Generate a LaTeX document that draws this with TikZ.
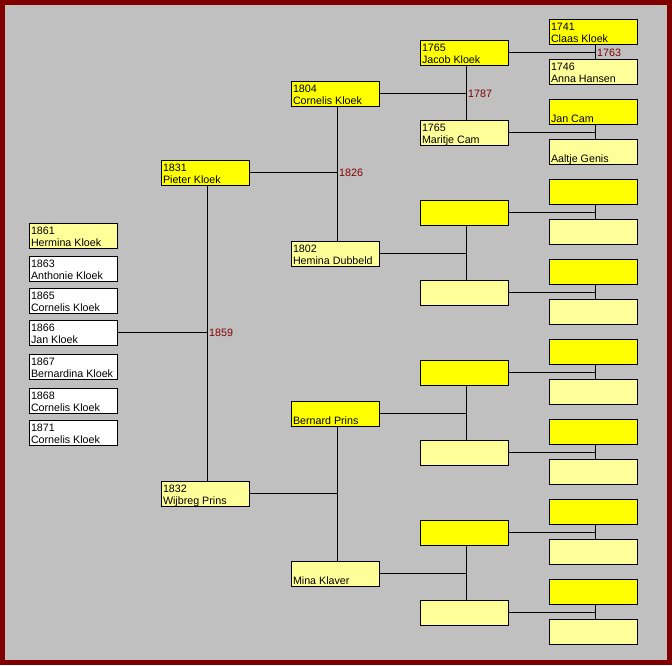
\documentclass[tikz,border=0pt]{standalone}
\usepackage{fontspec}
\setmainfont{Liberation Sans}
\definecolor{frame}{HTML}{800000}
\definecolor{panel}{HTML}{C0C0C0}
\definecolor{male}{HTML}{FFFF00}
\definecolor{female}{HTML}{FFFF99}
\definecolor{wedding}{HTML}{800000}
\newcommand{\who}[2]{\parbox[c][25pt][t]{84pt}{\rule{0pt}{11pt}#1\\#2}}
\tikzset{
  person/.style={draw, line width=1pt, minimum width=88pt, minimum height=25pt,
    inner sep=0pt, font=\fontsize{10.7}{12}\selectfont},
  man/.style={person, fill=male},
  woman/.style={person, fill=female},
  kid/.style={person, fill=white},
  wed/.style={anchor=west, inner sep=2pt, text=wedding, font=\fontsize{10.7}{12}\selectfont},
  tie/.style={line width=1pt}
}

\begin{document}
\begin{tikzpicture}[x=1pt, y=-1pt]
            \useasboundingbox (0,0) rectangle (672,665);
            \fill[frame] (0,0) rectangle (672,665);
            \fill[panel] (5,5) rectangle (667,660);

            % Children
            \node[woman] (C1) at (73,235.5) {\who{1861}{Hermina Kloek}};
            \node[kid] (C2) at (73,268.5) {\who{1863}{Anthonie Kloek}};
            \node[kid] (C3) at (73,300.5) {\who{1865}{Cornelis Kloek}};
            \node[kid] (C4) at (73,332.5) {\who{1866}{Jan Kloek}};
            \node[kid] (C5) at (73,366.5) {\who{1867}{Bernardina Kloek}};
            \node[kid] (C6) at (73,400.5) {\who{1868}{Cornelis Kloek}};
            \node[kid] (C7) at (73,432.5) {\who{1871}{Cornelis Kloek}};

            % Parents
            \node[man] (P1) at (205,172.5) {\who{1831}{Pieter Kloek}};
            \node[woman] (P2) at (205,493.5) {\who{1832}{Wijbreg Prins}};

            % Grandparents
            \node[man] (G1) at (335,93.5) {\who{1804}{Cornelis Kloek}};
            \node[woman] (G2) at (335,253.5) {\who{1802}{Hemina Dubbeld}};
            \node[man] (G3) at (335,413.5) {\who{}{Bernard Prins}};
            \node[woman] (G4) at (335,573.5) {\who{}{Mina Klaver}};

            % Great-grandparents
            \node[man] (H1) at (464,52.5) {\who{1765}{Jacob Kloek}};
            \node[woman] (H2) at (464,132.5) {\who{1765}{Maritje Cam}};
            \foreach \i [evaluate=\i as \y using 52.5+80*(\i-1)] in {3,...,8}
            {\ifodd\i \node[man] (H\i) at (464,\y) {}; \else \node[woman] (H\i) at (464,\y) {}; \fi}

            % Great-great-grandparents
            \node[man] (A1) at (593,31.5) {\who{1741}{Claas Kloek}};
            \node[woman] (A2) at (593,71.5) {\who{1746}{Anna Hansen}};
            \node[man] (A3) at (593,111.5) {\who{}{Jan Cam}};
            \node[woman] (A4) at (593,151.5) {\who{}{Aaltje Genis}};
            \foreach \i [evaluate=\i as \y using 31.5+40*(\i-1)] in {5,...,16}
            {\ifodd\i \node[man] (A\i) at (593,\y) {}; \else \node[woman] (A\i) at (593,\y) {}; \fi}

            % Lines from each child to its couple
            \foreach \c/\f/\m in {C4/P1/P2, P1/G1/G2, P2/G3/G4, G1/H1/H2, G2/H3/H4,
                G3/H5/H6, G4/H7/H8, H1/A1/A2, H2/A3/A4, H3/A5/A6, H4/A7/A8,
                H5/A9/A10, H6/A11/A12, H7/A13/A14, H8/A15/A16}
            {
              \coordinate (J\c) at ([xshift=2pt]\f.south);
              \draw[tie] (\c.east) -- (\c.east -| J\c);
              \draw[tie] (\f.south -| J\c) -- (\m.north -| J\c);
            }

            % Marriage years
            \node[wed] (W1) at (C4.east -| JC4) {1859};
            \node[wed] (W2) at (P1.east -| JP1) {1826};
            \node[wed] (W3) at (G1.east -| JG1) {1787};
            \node[wed] (W4) at (H1.east -| JH1) {1763};
        \end{tikzpicture}
\end{document}
